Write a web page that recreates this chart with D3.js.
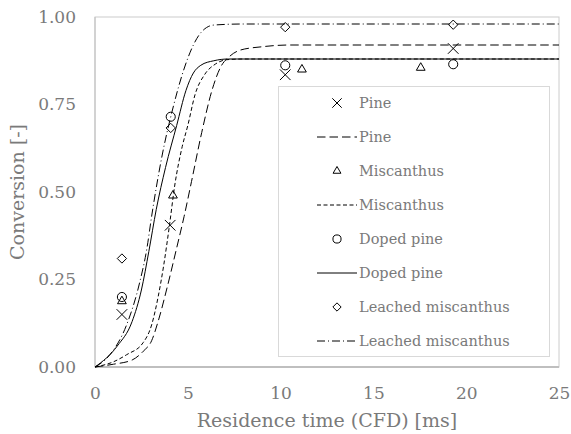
<!DOCTYPE html>
<html>
<head>
<meta charset="utf-8">
<script src="https://cdn.jsdelivr.net/npm/d3@7"></script>
<style>
  body { margin: 0; background: #fff; }
  svg text { font-family: "DejaVu Serif", serif; fill: #7a7a7a; }
</style>
</head>
<body>
<div id="chart"></div>
<script>
// measured points
const pineT = [1.45, 4.05, 10.25, 19.3];
const pineV = [0.15, 0.405, 0.835, 0.91];
const miscT = [1.45, 4.2, 11.15, 17.55];
const miscV = [0.188, 0.49, 0.85, 0.855];
const dopedT = [1.45, 4.08, 10.25, 19.3];
const dopedV = [0.2, 0.715, 0.862, 0.865];
const leachedT = [1.45, 4.08, 10.25, 19.3];
const leachedV = [0.31, 0.683, 0.971, 0.978];

// model curves
const pineModelT = [0, 1, 2, 2.6, 3.05, 3.4, 3.9, 4.4, 4.8, 5.2, 5.75, 6.3, 6.8, 7.2, 7.8, 9, 10.5, 25];
const pineModelV = [0, 0.008, 0.02, 0.045, 0.075, 0.13, 0.23, 0.34, 0.43, 0.53, 0.67, 0.79, 0.86, 0.885, 0.905, 0.915, 0.92, 0.92];
const miscModelT = [0, 1, 1.7, 2.6, 3.05, 3.4, 3.7, 4.0, 4.3, 4.7, 5.0, 5.4, 5.9, 6.5, 7.1, 8, 25];
const miscModelV = [0, 0.015, 0.035, 0.07, 0.12, 0.2, 0.29, 0.4, 0.52, 0.63, 0.69, 0.78, 0.835, 0.866, 0.878, 0.88, 0.88];
const dopedModelT = [0, 1.2, 2, 2.5, 2.9, 3.3, 3.8, 4.4, 4.9, 5.3, 5.7, 6.4, 7.2, 25];
const dopedModelV = [0, 0.06, 0.13, 0.22, 0.33, 0.45, 0.57, 0.69, 0.79, 0.84, 0.862, 0.875, 0.88, 0.88];
const leachedModelT = [0, 0.8, 1.7, 2.4, 2.8, 3.05, 3.6, 4.2, 4.85, 5.3, 5.7, 6.4, 8, 25];
const leachedModelV = [0, 0.035, 0.12, 0.24, 0.34, 0.43, 0.6, 0.74, 0.86, 0.92, 0.955, 0.977, 0.98, 0.98];

const xTicks = [0, 5, 10, 15, 20, 25];
const yTicks = [0, 0.25, 0.5, 0.75, 1];

const width = 571, height = 434;
const margin = {top: 17, right: 12, bottom: 67, left: 95};

const svg = d3.select('#chart')
              .append('svg')
              .attr('width', width)
              .attr('height', height);

const xScale = d3.scaleLinear()
                 .domain([0, 25])
                 .range([margin.left, width - margin.right]);
const yScale = d3.scaleLinear()
               .domain([0, 1])
               .range([height - margin.bottom, margin.top]);

// plot frame
svg.append('rect')
   .attr('x', margin.left)
   .attr('y', margin.top)
   .attr('width', width - margin.right - margin.left)
   .attr('height', height - margin.bottom - margin.top)
   .attr('fill', 'none')
   .attr('stroke', '#cccccc')
   .attr('stroke-width', 1);

svg.append('line')
   .attr('x1', margin.left).attr('x2', width - margin.right)
   .attr('y1', yScale(0)).attr('y2', yScale(0))
   .attr('stroke', '#bfbfbf').attr('stroke-width', 2);
svg.append('line')
   .attr('x1', margin.left).attr('x2', margin.left)
   .attr('y1', yScale(0)).attr('y2', yScale(1))
   .attr('stroke', '#bfbfbf').attr('stroke-width', 1);

// axes
const xAxis = d3.axisBottom(xScale).tickValues(xTicks).tickSize(0).tickPadding(20).tickFormat(d3.format('d'));
const gx = svg.append('g')
              .attr('transform', 'translate(0,' + yScale(0) + ')')
              .call(xAxis);
gx.select('.domain').remove();
gx.attr('font-family', null);
gx.selectAll('text').style('font-size', '17px').attr('fill', null);

const yAxis = d3.axisLeft(yScale).tickValues(yTicks).tickSize(0).tickPadding(19).tickFormat(d3.format('.2f'));
const gy = svg.append('g')
              .attr('transform', 'translate(' + margin.left + ',0)')
              .call(yAxis);
gy.select('.domain').remove();
gy.attr('font-family', null);
gy.selectAll('text').style('font-size', '17px').attr('fill', null);

svg.append('text')
   .text('Residence time (CFD) [ms]')
   .attr('x', (margin.left + width - margin.right) / 2)
   .attr('y', 427)
   .attr('text-anchor', 'middle')
   .style('font-size', '19px');

svg.append('text')
   .text('Conversion [-]')
   .attr('transform', 'translate(24,' + (yScale(0.5)) + ') rotate(-90)')
   .attr('text-anchor', 'middle')
   .style('font-size', '19px');

// series definitions
const series = [
  {name: 'Pine', t: pineT, v: pineV, marker: 'x'},
  {name: 'Pine', t: pineModelT, v: pineModelV, dash: '8.5,4'},
  {name: 'Miscanthus', t: miscT, v: miscV, marker: 'triangle'},
  {name: 'Miscanthus', t: miscModelT, v: miscModelV, dash: '4,2.5'},
  {name: 'Doped pine', t: dopedT, v: dopedV, marker: 'circle'},
  {name: 'Doped pine', t: dopedModelT, v: dopedModelV, dash: null},
  {name: 'Leached miscanthus', t: leachedT, v: leachedV, marker: 'diamond'},
  {name: 'Leached miscanthus', t: leachedModelT, v: leachedModelV, dash: '8,3,1,3'}
];

const symbols = {
  x: d3.symbolTimes,
  triangle: d3.symbolTriangle2,
  circle: d3.symbolCircle,
  diamond: d3.symbolDiamond2
};
const symbolSizes = {x: 75, triangle: 55, circle: 65, diamond: 55};

const line = d3.line()
               .x(d => xScale(d[0]))
               .y(d => yScale(d[1]))
               .curve(d3.curveMonotoneX);

const plot = svg.append('g');

series.filter(s => !s.marker).forEach(s => {
  plot.append('path')
      .datum(d3.zip(s.t, s.v))
      .attr('d', line)
      .attr('fill', 'none')
      .attr('stroke', '#000')
      .attr('stroke-width', 1)
      .attr('stroke-dasharray', s.dash);
});

series.filter(s => s.marker).forEach(s => {
  plot.selectAll(null)
      .data(d3.zip(s.t, s.v))
      .enter()
      .append('path')
      .attr('d', d3.symbol(symbols[s.marker], symbolSizes[s.marker]))
      .attr('transform', d => 'translate(' + xScale(d[0]) + ',' + yScale(d[1]) + ')')
      .attr('fill', 'none')
      .attr('stroke', '#000')
      .attr('stroke-width', 1);
});

// legend
const legend = svg.append('g');
legend.append('rect')
      .attr('x', 278.5).attr('y', 86.5)
      .attr('width', 271).attr('height', 270)
      .attr('fill', '#fff')
      .attr('stroke', '#d9d9d9');

series.forEach((s, i) => {
  const y = 103 + i * 34;
  if (s.marker) {
    legend.append('path')
          .attr('d', d3.symbol(symbols[s.marker], symbolSizes[s.marker] * 0.8))
          .attr('transform', 'translate(337,' + y + ')')
          .attr('fill', 'none')
          .attr('stroke', '#000');
  } else {
    legend.append('line')
          .attr('x1', 317).attr('x2', 357)
          .attr('y1', y).attr('y2', y)
          .attr('stroke', '#000')
          .attr('stroke-dasharray', s.dash);
  }
  legend.append('text')
        .text(s.name)
        .attr('x', 359)
        .attr('y', y)
        .attr('dy', '0.35em')
        .style('font-size', '14.5px');
});
</script>
</body>
</html>
